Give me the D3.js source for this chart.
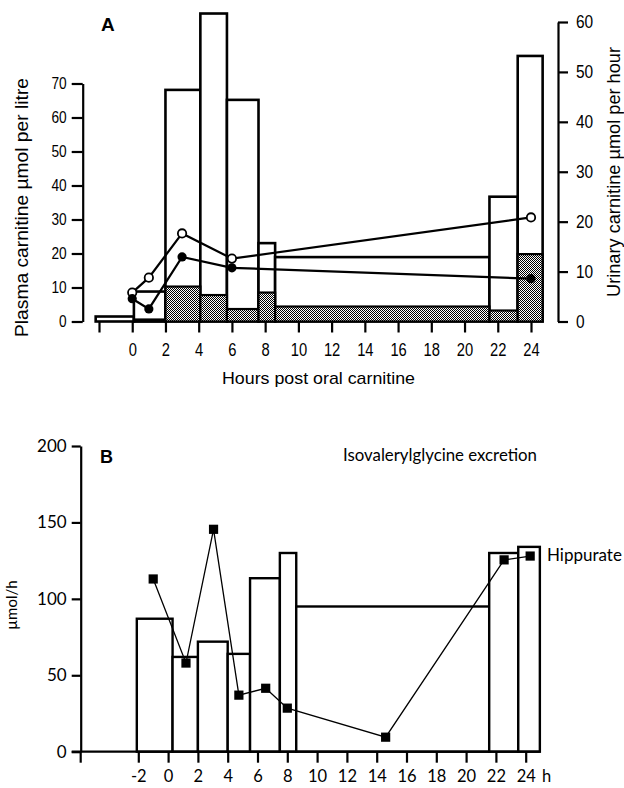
<!DOCTYPE html>
<html>
<head>
<meta charset="utf-8">
<script src="https://cdn.jsdelivr.net/npm/d3@7"></script>
<style>
body { margin: 0; background: #fff; }
.narrow { font-family: "Liberation Sans", Arial, sans-serif; }
.human { font-family: Lato, "Open Sans", sans-serif; }
</style>
</head>
<body>
<svg width="624" height="788"></svg>
<script>
var svg = d3.select("svg");

// ---- panel A data ----
// urinary carnitine collection periods (hours) and rates (right axis)
var aEdges = [-2.2, 0.1, 2, 4.1, 5.7, 7.6, 8.6, 21.5, 23.2, 24.7];
var aTotal = [1, 6, 46.4, 61.7, 44.4, 15.7, 12.9, 25, 53.2];
var aFree = [0, 0.4, 7, 5.3, 2.5, 5.8, 3, 2.2, 13.5]; // stippled part
// plasma carnitine (left axis)
var plasmaHours = [0, 1, 3, 6, 24];
var plasmaOpen = [8.5, 12.9, 25.9, 18.5, 30.6];
var plasmaFilled = [6.7, 3.7, 19, 15.8, 12.6];
var aHourTicks = [-2, 0, 2, 4, 6, 8, 10, 12, 14, 16, 18, 20, 22, 24];
var leftTicks = [0, 10, 20, 30, 40, 50, 60, 70];
var rightTicks = [0, 10, 20, 30, 40, 50, 60];

// ---- panel B data ----
var bEdges = [-2.1, 0.3, 2.0, 4.0, 5.5, 7.5, 8.6, 21.55, 23.5, 24.95];
var bValues = [87, 62, 72, 64, 113.5, 130, 95, 130, 134];
var hippHours = [-1, 1.2, 3.05, 4.75, 6.55, 8, 14.6, 22.55, 24.3];
var hippValues = [113, 58, 145.5, 37, 41.5, 28.5, 9.5, 125.5, 128];
var bHourTicks = [-2, 0, 2, 4, 6, 8, 10, 12, 14, 16, 18, 20, 22, 24];
var bTicks = [0, 50, 100, 150, 200];

// squeeze text to look like the condensed face of the original
var squeeze = function(sel, perChar){
  sel.each(function(){
    var t = d3.select(this);
    var n = t.text().length;
    if(n > 0) t.attr("textLength", n * perChar).attr("lengthAdjust", "spacingAndGlyphs");
  });
}

// stipple pattern
var pat = svg.append("defs").append("pattern")
  .attr("id", "stip").attr("width", 2).attr("height", 2)
  .attr("patternUnits", "userSpaceOnUse");
pat.append("rect").attr("width", 2).attr("height", 2).attr("fill", "#fff");
pat.append("rect").attr("width", 1).attr("height", 1).attr("fill", "#000");
pat.append("rect").attr("x", 1).attr("y", 1).attr("width", 1).attr("height", 1).attr("fill", "#000");

//================ PANEL A ================
var xA = d3.scaleLinear().domain([-2, 24]).range([99, 531]);
var yL = d3.scaleLinear().domain([0, 70]).range([321.5, 83.5]);
var yR = d3.scaleLinear().domain([0, 60]).range([321.5, 22]);
var gA = svg.append("g").attr("class", "narrow");

var aBars = aTotal.map(function(v, i){
  return {x0: aEdges[i], x1: aEdges[i + 1], total: v, free: aFree[i]};
});

gA.selectAll(".tot").data(aBars).enter().append("rect")
  .attr("x", function(d){ return xA(d.x0); })
  .attr("width", function(d){ return xA(d.x1) - xA(d.x0); })
  .attr("y", function(d){ return yR(d.total); })
  .attr("height", function(d){ return yR(0) - yR(d.total); })
  .attr("fill", "#fff").attr("stroke", "#000").attr("stroke-width", 2.6);

gA.selectAll(".free").data(aBars.filter(function(d){ return d.free > 0; })).enter().append("rect")
  .attr("x", function(d){ return xA(d.x0); })
  .attr("width", function(d){ return xA(d.x1) - xA(d.x0); })
  .attr("y", function(d){ return yR(d.free); })
  .attr("height", function(d){ return yR(0) - yR(d.free); })
  .attr("fill", "url(#stip)").attr("stroke", "#000").attr("stroke-width", 2.2);

// axes
var axL = gA.append("g").attr("transform", "translate(82.7,0)")
  .call(d3.axisLeft(yL).tickValues(leftTicks).tickSize(11).tickSizeOuter(0).tickPadding(5));
var axR = gA.append("g").attr("transform", "translate(558,0)")
  .call(d3.axisRight(yR).tickValues(rightTicks).tickSize(10).tickSizeOuter(0).tickPadding(8));
var axB = gA.append("g").attr("transform", "translate(0," + yR(0) + ")")
  .call(d3.axisBottom(xA).tickValues(aHourTicks).tickSize(11).tickSizeOuter(0)
    .tickFormat(function(d){ return d < 0 ? "" : String(d); }));
axB.select(".domain").remove();
[axL, axR, axB].forEach(function(a){
  a.attr("font-family", null).attr("font-size", null);
  a.selectAll("path, line").attr("stroke", "#000").attr("stroke-width", 2.2);
  a.selectAll("text").attr("fill", "#000");
});
axL.selectAll("text").attr("font-size", 16);
squeeze(axL.selectAll("text"), 7.6);
axR.selectAll("text").attr("font-size", 18);
squeeze(axR.selectAll("text"), 8.6);
axB.selectAll("text").attr("font-size", 18).attr("y", 34).attr("dy", 0);
squeeze(axB.selectAll("text"), 8.2);

// plasma lines
var lineA = d3.line()
  .x(function(d){ return xA(d[0]); })
  .y(function(d){ return yL(d[1]); });
var openPts = plasmaHours.map(function(h, i){ return [h, plasmaOpen[i]]; });
var fillPts = plasmaHours.map(function(h, i){ return [h, plasmaFilled[i]]; });
gA.append("path").datum(openPts).attr("d", lineA)
  .attr("fill", "none").attr("stroke", "#000").attr("stroke-width", 2.2);
gA.append("path").datum(fillPts).attr("d", lineA)
  .attr("fill", "none").attr("stroke", "#000").attr("stroke-width", 2.2);
gA.selectAll(".oc").data(openPts).enter().append("circle")
  .attr("cx", function(d){ return xA(d[0]); }).attr("cy", function(d){ return yL(d[1]); })
  .attr("r", 4.2).attr("fill", "#fff").attr("stroke", "#000").attr("stroke-width", 1.8);
gA.selectAll(".fc").data(fillPts).enter().append("circle")
  .attr("cx", function(d){ return xA(d[0]); }).attr("cy", function(d){ return yL(d[1]); })
  .attr("r", 4.6).attr("fill", "#000");

// labels
gA.append("text").attr("x", 101).attr("y", 31).text("A")
  .attr("font-weight", "bold").attr("font-size", 19);
gA.append("text").attr("transform", "translate(28,207.5) rotate(-90)")
  .attr("text-anchor", "middle").attr("font-size", 18)
  .attr("textLength", 259).attr("lengthAdjust", "spacingAndGlyphs")
  .text("Plasma carnitine µmol per litre");
gA.append("text").attr("transform", "translate(620,172) rotate(-90)")
  .attr("text-anchor", "middle").attr("font-size", 18)
  .attr("textLength", 250).attr("lengthAdjust", "spacingAndGlyphs")
  .text("Urinary carnitine µmol per hour");
gA.append("text").attr("x", 318.5).attr("y", 384)
  .attr("text-anchor", "middle").attr("font-size", 17)
  .attr("textLength", 193).attr("lengthAdjust", "spacingAndGlyphs")
  .text("Hours post oral carnitine");

//================ PANEL B ================
var xB = d3.scaleLinear().domain([-2, 24]).range([138.3, 525.7]);
var yB = d3.scaleLinear().domain([0, 200]).range([751.7, 446]);
var gB = svg.append("g").attr("class", "human");

var bBars = bValues.map(function(v, i){ return {x0: bEdges[i], x1: bEdges[i + 1], v: v}; });
gB.selectAll(".bb").data(bBars).enter().append("rect")
  .attr("x", function(d){ return xB(d.x0); })
  .attr("width", function(d){ return xB(d.x1) - xB(d.x0); })
  .attr("y", function(d){ return yB(d.v); })
  .attr("height", function(d){ return yB(0) - yB(d.v); })
  .attr("fill", "#fff").attr("stroke", "#000").attr("stroke-width", 2.4);

var bxAxisX = 80.7;
var byAx = gB.append("g").attr("transform", "translate(" + bxAxisX + ",0)")
  .call(d3.axisLeft(yB).tickValues(bTicks).tickSize(9).tickSizeOuter(0).tickPadding(5));
var bxAx = gB.append("g").attr("transform", "translate(0," + yB(0) + ")")
  .call(d3.axisBottom(xB).tickValues(bHourTicks).tickSize(11).tickSizeOuter(0)
    .tickFormat(function(d){ return String(d); }));
bxAx.select(".domain").remove();
// x baseline from the y axis out to the last bar, with origin tick below
gB.append("line").attr("x1", bxAxisX - 9).attr("x2", xB(bEdges[bEdges.length - 1]))
  .attr("y1", yB(0)).attr("y2", yB(0)).attr("stroke", "#000").attr("stroke-width", 2.2);
gB.append("line").attr("x1", bxAxisX).attr("x2", bxAxisX)
  .attr("y1", yB(0)).attr("y2", yB(0) + 11).attr("stroke", "#000").attr("stroke-width", 2.2);
[byAx, bxAx].forEach(function(a){
  a.attr("font-family", null).attr("font-size", null);
  a.selectAll("path, line").attr("stroke", "#000").attr("stroke-width", 2.2);
  a.selectAll("text").attr("fill", "#000");
});
byAx.selectAll("text").attr("font-size", 17);
bxAx.selectAll("text").attr("font-size", 16.5).attr("y", 30).attr("dy", 0);

// hippurate line
var hipp = hippHours.map(function(h, i){ return [h, hippValues[i]]; });
var lineB = d3.line().x(function(d){ return xB(d[0]); }).y(function(d){ return yB(d[1]); });
gB.append("path").datum(hipp).attr("d", lineB)
  .attr("fill", "none").attr("stroke", "#000").attr("stroke-width", 1.3);
gB.selectAll(".sq").data(hipp).enter().append("rect")
  .attr("x", function(d){ return xB(d[0]) - 4.6; }).attr("y", function(d){ return yB(d[1]) - 4.6; })
  .attr("width", 9.2).attr("height", 9.2).attr("fill", "#000");

gB.append("text").attr("x", 100).attr("y", 463).text("B")
  .attr("font-family", "Liberation Sans, Arial, sans-serif").attr("font-weight", "bold").attr("font-size", 18);
gB.append("text").attr("x", 343).attr("y", 461).attr("font-size", 16.5)
  .attr("textLength", 194).attr("lengthAdjust", "spacingAndGlyphs")
  .text("Isovalerylglycine excretion");
gB.append("text").attr("x", 547).attr("y", 561).attr("font-size", 17).text("Hippurate");
gB.append("text").attr("x", 542).attr("y", 781.5).attr("font-size", 16.5).text("h");
gB.append("text").attr("transform", "translate(17,605) rotate(-90)")
  .attr("text-anchor", "middle").attr("font-size", 15).text("µmol/h");
</script>
</body>
</html>
